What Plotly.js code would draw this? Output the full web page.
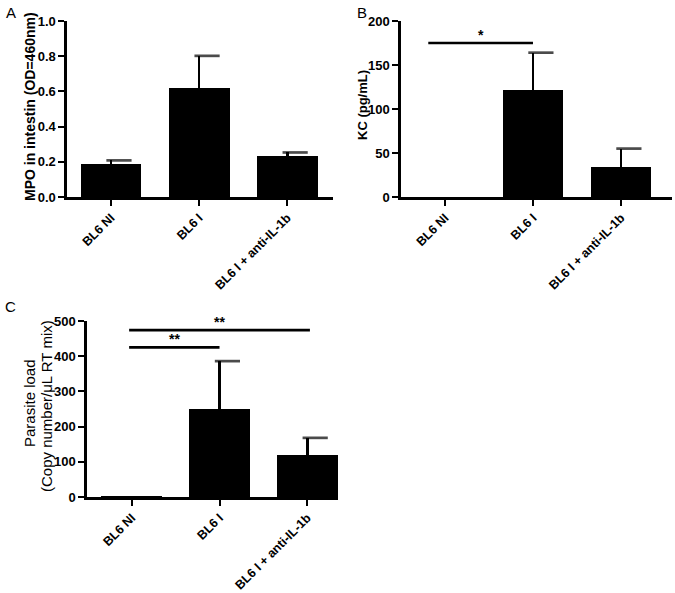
<!DOCTYPE html>
<html>
<head>
<meta charset="utf-8">
<script src="https://cdn.plot.ly/plotly-3.0.1.min.js"></script>
<style>html,body{margin:0;padding:0;background:#fff;}#chart{width:675px;height:593px;}</style>
</head>
<body>
<div id="chart"></div>
<script>
// ---- data ----
const categories = ['BL6 NI', 'BL6 I', 'BL6 I + anti-IL-1b'];
const mpoMean = [0.19, 0.62, 0.235];
const mpoErr  = [0.018, 0.182, 0.018];
const kcMean  = [0, 122, 34];
const kcErr   = [0, 42, 21];
const loadMean = [4, 249, 119];
const loadErr  = [0, 137, 49];
const sigB_x0 = [-0.19], sigB_x1 = [1.0], sigB_y = [175], sigB_label = ['*'];
const sigC_x0 = [-0.03, -0.03], sigC_x1 = [1.0, 2.03], sigC_y = [425, 474], sigC_label = ['**', '**'];
const titleA = 'MPO in intestin (OD=460nm)';
const titleB = 'KC (pg/mL)';
const titleC = ['Parasite load', '(Copy number/μL RT mix)'];

const idx = categories.map((_, i) => i);
const FONT = 'Liberation Sans, Arial, sans-serif';
const YTICK = {family: FONT, size: 13, color: '#000', weight: 'bold'};
const XTICK = {family: FONT, size: 12.5, color: '#000', weight: 'bold'};
const capOffset = 0.09;

function barTraces(mean, err, xa, ya) {
  return [
    {type: 'bar', x: idx, y: mean, xaxis: xa, yaxis: ya, width: 0.69,
     marker: {color: '#000', line: {width: 0}},
     error_y: {type: 'data', array: err, arrayminus: err.map(() => 0), symmetric: false,
               color: '#000', thickness: 2.7, width: 0},
     hoverinfo: 'skip', showlegend: false},
    {type: 'scatter', mode: 'markers', x: idx.map(i => i + capOffset),
     y: mean.map((m, i) => m + err[i]), xaxis: xa, yaxis: ya,
     marker: {symbol: 'line-ew', size: err.map(e => e > 0 ? 18 : 0),
              line: {width: 2.7, color: '#000'}, color: '#000'},
     hoverinfo: 'skip', showlegend: false}
  ];
}
function sigTraces(x0, x1, y, xa, ya) {
  return x0.map((v, i) => ({type: 'scatter', mode: 'lines', x: [v, x1[i]], y: [y[i], y[i]],
    xaxis: xa, yaxis: ya, line: {color: '#000', width: 2.7}, hoverinfo: 'skip', showlegend: false}));
}

const data = [
  ...barTraces(mpoMean, mpoErr, 'x', 'y'),
  ...barTraces(kcMean, kcErr, 'x2', 'y2'),
  ...barTraces(loadMean, loadErr, 'x3', 'y3'),
  ...sigTraces(sigB_x0, sigB_x1, sigB_y, 'x2', 'y2'),
  ...sigTraces(sigC_x0, sigC_x1, sigC_y, 'x3', 'y3')
];

function xAxis(domain, range, anchor) {
  return {domain: domain, range: range, anchor: anchor, tickvals: idx, ticktext: categories,
    tickangle: -45, tickfont: XTICK, showline: true, linecolor: '#000', linewidth: 2.6,
    ticks: 'outside', ticklen: 6, tickwidth: 2, tickcolor: '#000', showgrid: false,
    zeroline: false, fixedrange: true, automargin: false};
}
function yAxis(domain, range, dtick, anchor) {
  return {domain: domain, range: range, anchor: anchor, dtick: dtick, tick0: 0,
    tickfont: YTICK, showline: true, linecolor: '#000', linewidth: 2.6,
    ticks: 'outside', ticklen: 6, tickwidth: 2, tickcolor: '#000', showgrid: false,
    zeroline: false, fixedrange: true, automargin: false};
}

const W = 675, H = 593;
const px = v => v / W, py = v => 1 - v / H;
const ann = (text, x, y, font, extra) => Object.assign({text: text, x: px(x), y: py(y), xref: 'paper', yref: 'paper',
  xanchor: 'center', yanchor: 'middle', showarrow: false, font: font}, extra || {});
const F = (size, bold) => ({family: FONT, size: size, color: '#000', weight: bold ? 'bold' : 'normal'});

const annotations = [
  ann('A', 11, 13, F(15)),
  ann('B', 362, 13, F(15)),
  ann('C', 11, 306, F(15)),
  ann(titleA, 30, 107, F(14, true), {textangle: -90}),
  ann(titleB, 362, 105, F(13, true), {textangle: -90}),
  ann(titleC[0], 29, 403, F(15), {textangle: -90}),
  ann(titleC[1], 46, 406, F(15), {textangle: -90})
];
sigB_label.forEach((t, i) => annotations.push({text: t, x: (sigB_x0[i] + sigB_x1[i]) / 2, y: sigB_y[i],
  xref: 'x2', yref: 'y2', yanchor: 'bottom', showarrow: false, yshift: -2, font: F(14, true)}));
sigC_label.forEach((t, i) => annotations.push({text: t, x: (sigC_x0[i] + sigC_x1[i]) / 2, y: sigC_y[i],
  xref: 'x3', yref: 'y3', yanchor: 'bottom', showarrow: false, yshift: -2, font: F(14, true)}));

const layout = {
  width: W, height: H, margin: {l: 0, r: 0, t: 0, b: 0}, paper_bgcolor: '#fff', plot_bgcolor: 'rgba(0,0,0,0)',
  showlegend: false, bargap: 0,
  xaxis:  xAxis([px(67), px(333)], [-0.5, 2.52], 'y'),
  yaxis:  yAxis([py(197), py(21)], [0, 1.0], 0.2, 'x'),
  xaxis2: xAxis([px(401), px(672)], [-0.5, 2.58], 'y2'),
  yaxis2: yAxis([py(197), py(21)], [0, 200], 50, 'x2'),
  xaxis3: xAxis([px(87), px(338)], [-0.51, 2.35], 'y3'),
  yaxis3: yAxis([py(497), py(321)], [0, 500], 100, 'x3'),
  annotations: annotations
};
layout.yaxis.tickformat = '.1f';

Plotly.newPlot('chart', data, layout, {staticPlot: true, displayModeBar: false});
</script>
</body>
</html>
